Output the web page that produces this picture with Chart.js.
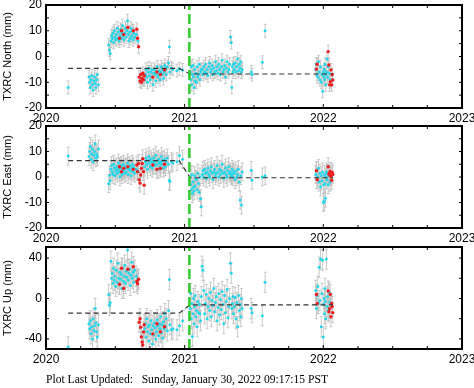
<!DOCTYPE html>
<html>
<head>
<meta charset="utf-8">
<script src="https://cdn.jsdelivr.net/npm/chart.js@4"></script>
<style>
  body { margin: 0; background: #fff; width: 474px; height: 388px; position: relative; overflow: hidden; }
  canvas { position: absolute; left: 0; }
  #updated { position: absolute; left: 46px; top: 373px; font: 11.6px "Liberation Serif", "Times New Roman", serif; white-space: pre; color: #000; }
</style>
</head>
<body>
<canvas id="north" width="474" height="124" style="top:0px"></canvas>
<canvas id="east" width="474" height="124" style="top:120px"></canvas>
<canvas id="up" width="474" height="130" style="top:240px"></canvas>
<div id="updated">Plot Last Updated:   Sunday, January 30, 2022 09:17:15 PST</div>
<script>
// epochs (decimal year) of the final solutions (cyan)
const tCyan = [
  2020.160,
  2020.310, 2020.315, 2020.320, 2020.325, 2020.330, 2020.335, 2020.340, 2020.345, 2020.350, 2020.355, 2020.360, 2020.365, 2020.370, 2020.378,
  2020.452, 2020.458, 2020.463, 2020.468, 2020.473, 2020.478, 2020.483, 2020.488, 2020.493, 2020.498,
  2020.503, 2020.508, 2020.513, 2020.518, 2020.523, 2020.528, 2020.533, 2020.538, 2020.543, 2020.548,
  2020.553, 2020.558, 2020.563, 2020.568, 2020.573, 2020.578, 2020.583, 2020.588, 2020.593, 2020.598,
  2020.603, 2020.608, 2020.613, 2020.618, 2020.623, 2020.628, 2020.633, 2020.640, 2020.650, 2020.662,
  2020.712, 2020.717, 2020.722, 2020.727, 2020.732, 2020.737, 2020.742, 2020.747, 2020.752, 2020.757,
  2020.762, 2020.767, 2020.772, 2020.777, 2020.782, 2020.787, 2020.792, 2020.797, 2020.802, 2020.807,
  2020.812, 2020.817, 2020.822, 2020.827, 2020.832, 2020.837, 2020.842, 2020.847, 2020.852, 2020.857,
  2020.862, 2020.867, 2020.875, 2020.884, 2020.890, 2020.893, 2020.905, 2020.915,
  2020.945, 2020.962, 2020.985,
  2021.040, 2021.044, 2021.048, 2021.052, 2021.056, 2021.060, 2021.064, 2021.068, 2021.072, 2021.076, 2021.080,
  2021.085, 2021.090, 2021.095, 2021.100, 2021.105, 2021.110, 2021.115, 2021.120,
  2021.126, 2021.132, 2021.138, 2021.144, 2021.150, 2021.156, 2021.162, 2021.168, 2021.174, 2021.180,
  2021.186, 2021.192, 2021.198, 2021.204, 2021.210, 2021.216, 2021.222, 2021.228, 2021.234, 2021.240,
  2021.246, 2021.252, 2021.258, 2021.264, 2021.270, 2021.276, 2021.282, 2021.288, 2021.294, 2021.300,
  2021.306, 2021.312, 2021.318, 2021.324, 2021.330, 2021.336,
  2021.340, 2021.344, 2021.348, 2021.352,
  2021.358, 2021.364, 2021.370, 2021.376, 2021.382, 2021.388, 2021.394,
  2021.400, 2021.405, 2021.410, 2021.415,
  2021.480, 2021.486, 2021.560, 2021.580,
  2021.945, 2021.950, 2021.955, 2021.960, 2021.965, 2021.970, 2021.975, 2021.980, 2021.985, 2021.990,
  2021.995, 2022.000, 2022.003, 2022.006, 2022.009, 2022.012, 2022.015, 2022.018, 2022.022, 2022.026,
  2022.030, 2022.035, 2022.040, 2022.048
];

const northCyan = [
  -12,
  -8, -10, -12, -9, -7.5, -11, -13, -9.5, -8, -10.5, -12, -9, -7, -11,
  4.5, 2.5, 1.2, 6, 8, 7, 9, 5.5, 10, 7.5,
  6.5, 8.5, 11, 7, 9.5, 6, 8, 10.5, 7, 9,
  12, 8, 6.5, 9, 11, 7.5, 10, 13.9, 8.5, 6,
  9.5, 7, 11, 8, 10, 6.5, 9, 7.5, 8.5, 6,
  -9, -7, -5, -8, -10, -6, -4.5, -7.5, -9, -6,
  -5, -8, -11, -6.5, -5, -7, -9.5, -6, -4, -8,
  -7, -5.5, -9, -6, -4, -7, -5, -8.5, -6, -3.5,
  -5, -7, -4, -2.5, 3.8, -6, -4.5, -5,
  -5.5, -4.8, -5.2,
  -6, -9, -4, -11, -7, -3.5, -8, -12, -5, -9.5, -6.5,
  -10, -4, -8, -7, -3, -9, -6, -5,
  -5, -7, -4, -6, -3, -6.5, -5, -7.5, -4, -2.5,
  -6, -5, -3.5, -7, -4.5, -6, -2, -5.5, -4, -6.5,
  -3, -5, -7, -4, -1.5, -6, -5, -3.5, -8, -4.5,
  -2, -6, -5, -3, 7.6, 5.4,
  -12, -4, -6, -3,
  -5, -2.5, -6, -4, -1, -5.5, -3,
  -4.5, -2, -6, -5,
  -6, -7, -2.2, 10,
  -5, -3, -7, -8, -2, -6, -9, -4, -10, -7,
  -13.5, -6, -8, -5, -9, -3, -7, -11, -6, -1,
  -8, -4, -6.5, -9
];

const eastCyan = [
  8.2,
  8, 10, 12, 7, 9, 11, 6, 8.5, 10, 13, 7.5, 9, 8, 11,
  -2.6, 0.7, -1.5, 3, 4.5, 2, 1, 5, 3.5, 0.5,
  2.5, 4, 1.5, 3, 5.5, 2, 0, 3.5, 4.5, 1,
  2.5, 5, 3, 1.5, 4, 2, 3.5, 5.5, 1, 3,
  4.5, 2.5, 0.5, 3.5, 5, 2, 4, 1.5, 3, 2.5,
  4, 6, 7.5, 5, 3, 6.5, 8, 5.5, 4, 7,
  6, 3.5, 5, 7.5, 6, 4.5, 8.5, 5, 6.5, 3,
  7, 5.5, 4, 6, 8, 5, 6.5, 3.5, 7, 5,
  4, 6, 7.5, 5, -1.3, -1.8, 6, 5.5,
  6, 8.4, 7,
  0, -3, -5, 1, -6.5, -2, -4, -5.5, 0.5, -3.5, -1,
  -1, -5, 1.5, -2.5, -6, 0, -8.5, -11.7,
  1, 2.5, 0, 3, 1.5, -0.5, 2, 3.5, 1, 0,
  2.5, 4, 1.5, -1, 2, 3, 0.5, 1.5, 4.5, 2,
  0, 3, 1, 2.5, 5, 1.5, -0.5, 2, 3.5, 1,
  0, 2.5, 4, 1.5, 2, 0.5,
  1, 3, 0, 2,
  1.5, -1, 2.5, 0, 1, 3, -2,
  -9, 0.5, -11, 2,
  2.6, -1.3, 0, 0.5,
  1, 2.5, -1, 0, 3.4, -2, 1.5, -3.8, 0.5, -1.5,
  2, -10, -3, -9.5, 1, -2.5, -8.3, 0, 2, -1,
  1.5, -3, 0.5, -2
];

const upCyan = [
  -48,
  -25, -30, -22, -35, -28, -40, -20, -32, -27, -10, -24, -33, -38, -26,
  4, -7, -4, 37, 20, 25, 15, 30, 18, 22,
  12, 28, 16, 35, 20, 14, 26, 19, 24, 10,
  30, 17, 22, 33, 15, 27, 21, 48, 18, 25,
  29, 13, 23, 36, 20, 26, 16, 28, 22, 19,
  -30, -25, -38, -20, -33, -28, -42, -26, -35, -22,
  -31, -45, -27, -36, -24, -29, -40, -33, -21, -27,
  -37, -25, -30, -18, -34, -26, -39, -23, -30, -15,
  -28, -20, -32, -12, 18.7, -26, -31, -30,
  -31, -27, -22,
  -10, 5, -20, -5, -37.5, -15, 0, -25, -8, 3, -18,
  -12, -28, -3, -14, -6, -15, -22, 2,
  32, 28, 8, -15, -5, 4, -20, -8, 0, -12,
  6, -18, -2, -7, 10, -13, -4, 2, -22, -9,
  5, -16, -1, -11, 7, -6, -25, 3, -14, -3,
  9, -19, -8, 0, 35, 25,
  -10, -5, 2, -15,
  -8, 1, -20, -4, -28, 3, -12,
  -6, -18, 0, -10,
  -10, -14, -17, 16,
  8, -10, 3, 12, -5, 31, -2, 39, -28, 5,
  38, -38, -6, 0, -15, 10, -3, -20, 39, -8,
  2, -12, 6, -4
];

// rapid solutions (red)
const tRed = [
  2020.530, 2020.545, 2020.560, 2020.590, 2020.630, 2020.655, 2020.660, 2020.668,
  2020.672, 2020.678, 2020.683, 2020.688, 2020.693, 2020.698, 2020.703, 2020.708,
  2020.770, 2020.800, 2020.825, 2020.855,
  2021.950, 2021.956, 2022.035, 2022.040, 2022.045, 2022.050, 2022.055, 2022.060, 2022.064, 2022.068
];
const northRed = [
  7.1, 10, 8.5, 11.3, 10, 10.6, 7.1, 3.8,
  -8, -9.5, -7, -10, -8.5, -6.5, -9, -7.5,
  -8, -6, -7, -5.2,
  -4.9, -3, 1.9, -3.3, -11, -9.8, -5.2, -11, -7, -9.1
];
const eastRed = [
  4.0, 2.1, 3.4, 4.0, 3.0, 4.7, 2.1, 5.3,
  -1.1, -2.4, 0.8, 3.4, 5.3, 7.2, 2.1, -3.2,
  4.7, 3.0, 3.4, 5,
  2.5, -1.1, 4, 1.3, 0.8, 2.2, 0.2, -1.3, 1.8, 1
];
const upRed = [
  14, 30, 10, 29, 31.5, 17, 14.6, 19,
  -23.5, -20, -28.4, -38, -43, -46, -33, -26,
  -35, -25, -33, -28,
  4, -5, 7.4, -13, -10, 4, -18, -5, -8, -14
];

// model (dashed) and event (green)
const tModel = [2020.16, 2020.96, 2021.04, 2022.07];
const northModel = [-4.6, -4.6, -6.8, -6.8];
const eastModel = [6.4, 6.4, -0.3, -0.3];
const upModel = [-14.5, -14.5, -6.3, -6.3];
const eventYear = 2021.034;

// one-sigma error bars, mm
const northSigma = 2.5;
const eastSigma = 3.5;
const upSigma = 10;

// ticks
const xTicks = [2020, 2020.25, 2020.5, 2020.75, 2021, 2021.25, 2021.5, 2021.75, 2022, 2022.25, 2022.5, 2022.75, 2023];
const yearLabels = [2020, 2021, 2022, 2023];
const neTicks = [-20, -15, -10, -5, 0, 5, 10, 15, 20];
const neLabels = [-20, -10, 0, 10, 20];
const upTicks = [-40, -20, 0, 20, 40];
const upLabels = [-40, 0, 40];

Chart.defaults.font.family = '"Liberation Sans", Arial, sans-serif';
Chart.defaults.font.size = 12;
Chart.defaults.color = '#000';

const errorBars = {
  id: 'errorBars',
  beforeDatasetsDraw(chart) {
    const {ctx, chartArea: a, scales: {x, y}} = chart;
    ctx.save();
    ctx.beginPath();
    ctx.rect(a.left, a.top, a.width, a.height);
    ctx.clip();
    ctx.strokeStyle = '#bdbdbd';
    ctx.lineWidth = 0.8;
    chart.data.datasets.forEach(ds => {
      if (!ds.sigma) return;
      ds.data.forEach(p => {
        const px = x.getPixelForValue(p.x);
        const y1 = y.getPixelForValue(p.y - ds.sigma);
        const y2 = y.getPixelForValue(p.y + ds.sigma);
        ctx.beginPath();
        ctx.moveTo(px, y1); ctx.lineTo(px, y2);
        ctx.moveTo(px - 1.5, y1); ctx.lineTo(px + 1.5, y1);
        ctx.moveTo(px - 1.5, y2); ctx.lineTo(px + 1.5, y2);
        ctx.stroke();
      });
    });
    ctx.restore();
  }
};

// frame with inward ticks (GMT style)
const frame = {
  id: 'frame',
  afterDraw(chart) {
    const {ctx, chartArea: a, scales: {x, y}} = chart;
    ctx.save();
    ctx.strokeStyle = '#000';
    ctx.lineWidth = 1;
    ctx.beginPath();
    x.ticks.forEach(t => {
      const px = x.getPixelForValue(t.value);
      const len = yearLabels.includes(t.value) ? 4 : 3;
      ctx.moveTo(px, a.bottom); ctx.lineTo(px, a.bottom - len);
      ctx.moveTo(px, a.top); ctx.lineTo(px, a.top + len);
    });
    y.ticks.forEach(t => {
      const py = y.getPixelForValue(t.value);
      ctx.moveTo(a.left, py); ctx.lineTo(a.left + 3, py);
      ctx.moveTo(a.right, py); ctx.lineTo(a.right - 3, py);
    });
    ctx.stroke();
    ctx.lineWidth = 2;
    ctx.strokeRect(a.left, a.top, a.width, a.height);
    ctx.restore();
  }
};

function points(ts, vs) {
  return ts.map((t, i) => ({x: t, y: vs[i]}));
}

function makePanel(id, title, yMin, yMax, yTicks, yLabels, cyan, red, model, sigma, geo) {
  new Chart(document.getElementById(id), {
    type: 'scatter',
    data: {
      datasets: [
        {
          data: [{x: eventYear, y: yMin}, {x: eventYear, y: yMax}],
          showLine: true, pointRadius: 0, borderColor: '#2ecc2e', borderWidth: 2.5, borderDash: [10, 4]
        },
        {
          data: points(tModel, model),
          showLine: true, pointRadius: 0, borderColor: '#333', borderWidth: 1.2, borderDash: [5, 3.5]
        },
        {
          data: points(tRed, red), sigma: sigma,
          pointRadius: 1.7, backgroundColor: '#ee1c1c', borderWidth: 0
        },
        {
          data: points(tCyan, cyan), sigma: sigma,
          pointRadius: 1.5, backgroundColor: '#22d8ea', borderWidth: 0
        }
      ]
    },
    options: {
      responsive: false,
      animation: false,
      layout: { padding: { top: geo.plotTop - geo.top, right: 12, left: 0, bottom: 0 } },
      plugins: { legend: { display: false }, tooltip: { enabled: false } },
      scales: {
        x: {
          type: 'linear', min: 2020, max: 2023,
          grid: { display: false, drawTicks: false }, border: { display: false },
          afterBuildTicks: s => { s.ticks = xTicks.map(v => ({value: v})); },
          afterFit: s => { s.height = geo.top + geo.height - geo.plotBottom; s.paddingLeft = 0; s.paddingRight = 0; },
          ticks: {
            autoSkip: false, maxRotation: 0, padding: 3,
            callback: v => yearLabels.includes(v) ? String(v) : ''
          }
        },
        y: {
          min: yMin, max: yMax,
          grid: { display: false, drawTicks: false }, border: { display: false },
          afterBuildTicks: s => { s.ticks = yTicks.map(v => ({value: v})); },
          afterFit: s => { s.width = 46; s.paddingTop = 0; s.paddingBottom = 0; },
          ticks: {
            autoSkip: false, padding: 4,
            callback: v => yLabels.includes(v) ? String(v) : ''
          },
          title: { display: true, text: title, font: { size: 11 }, padding: { top: 1, bottom: 0 } }
        }
      }
    },
    plugins: [errorBars, frame]
  });
}

makePanel('north', 'TXRC North (mm)', -20, 20, neTicks, neLabels, northCyan, northRed, northModel, northSigma,
  {top: 0, height: 124, plotTop: 5, plotBottom: 108});
makePanel('east', 'TXRC East (mm)', -20, 20, neTicks, neLabels, eastCyan, eastRed, eastModel, eastSigma,
  {top: 120, height: 124, plotTop: 126, plotBottom: 228});
makePanel('up', 'TXRC Up (mm)', -50, 51, upTicks, upLabels, upCyan, upRed, upModel, upSigma,
  {top: 240, height: 130, plotTop: 247, plotBottom: 349});
</script>
</body>
</html>
